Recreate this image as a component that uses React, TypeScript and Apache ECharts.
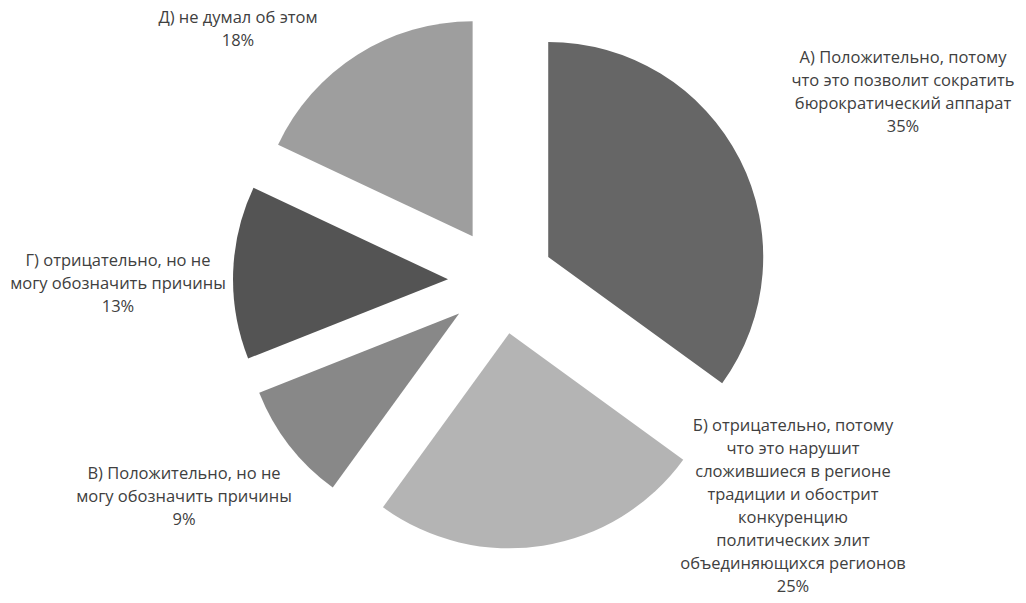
import React, { useEffect, useRef } from "react";
import * as echarts from "echarts";

const categories = [
  "А) Положительно, потому\nчто это позволит сократить\nбюрократический аппарат",
  "Б) отрицательно, потому\nчто это нарушит\nсложившиеся в регионе\nтрадиции и обострит\nконкуренцию\nполитических элит\nобъединяющихся регионов",
  "В) Положительно, но не\nмогу обозначить причины",
  "Г) отрицательно, но не\nмогу обозначить причины",
  "Д) не думал об этом",
];
const values = [35, 25, 9, 13, 18];
const colors = ["#666666", "#b4b4b4", "#888888", "#545454", "#9e9e9e"];
const labelPos = [
  [903, 45],
  [793, 413],
  [184, 461],
  [118, 248],
  [238, 5],
];

export default function App() {
  const ref = useRef<HTMLDivElement>(null);
  useEffect(() => {
    if (!ref.current) return;
    const chart = echarts.init(ref.current, null, { renderer: "svg" });
    const total = values.reduce((a, b) => a + b, 0);
    chart.setOption({
      animation: false,
      backgroundColor: "#ffffff",
      series: [
        {
          type: "pie",
          center: [501, 281],
          radius: [0, 215],
          startAngle: 90,
          clockwise: true,
          selectedMode: "multiple",
          selectedOffset: 53,
          emphasis: { disabled: true },
          data: categories.map((name, i) => ({
            name,
            value: values[i],
            selected: true,
            itemStyle: { color: colors[i] },
          })),
          label: { show: false },
          labelLine: { show: false },
        },
      ],
      graphic: categories.map((name, i) => ({
        type: "text",
        x: labelPos[i][0],
        y: labelPos[i][1],
        style: {
          text: `${name}\n${Math.round((values[i] / total) * 100)}%`,
          align: "center",
          verticalAlign: "top",
          fontFamily: "Open Sans",
          fontSize: 16.5,
          lineHeight: 23,
          fill: "#404040",
        },
      })),
    });
    return () => chart.dispose();
  }, []);
  return (
    <div
      ref={ref}
      style={{ position: "fixed", left: 0, top: 0, width: 1026, height: 603 }}
    />
  );
}
